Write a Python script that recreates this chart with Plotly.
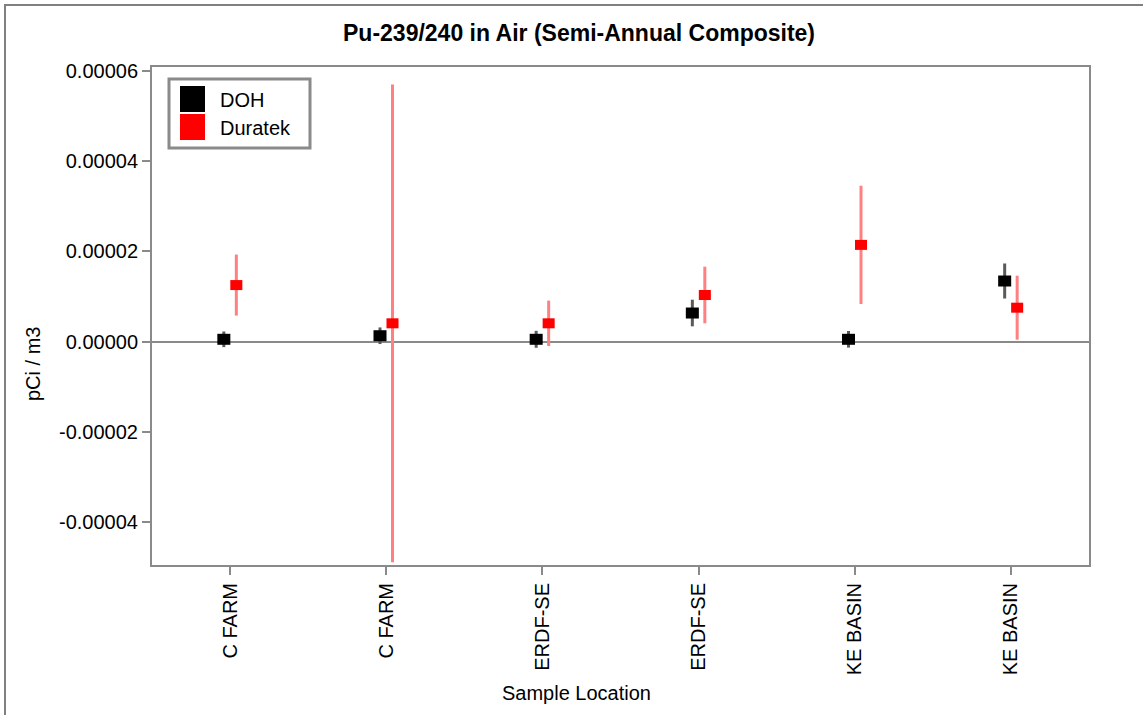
import plotly.graph_objects as go

# ---- data ----
locations = ["C FARM", "C FARM", "ERDF-SE", "ERDF-SE", "KE BASIN", "KE BASIN"]
doh_values = [4.9e-7, 1.28e-6, 4.9e-7, 6.31e-6, 4.9e-7, 1.34e-5]
doh_errors = [1.73e-6, 1.84e-6, 1.88e-6, 2.95e-6, 1.84e-6, 3.88e-6]
duratek_values = [1.25e-5, 4.03e-6, 4.03e-6, 1.03e-5, 2.14e-5, 7.49e-6]
duratek_errors = [6.76e-6, 5.29e-5, 5.03e-6, 6.27e-6, 1.31e-5, 7.09e-6]
y_ticks = [-0.00004, -0.00002, 0.0, 0.00002, 0.00004, 0.00006]
y_tick_labels = ["-0.00004", "-0.00002", "0.00000", "0.00002", "0.00004", "0.00006"]

# ---- layout geometry (pixels) ----
W, H = 1143, 715
PL, PR, PT, PB = 152, 1089, 67, 565
FONT = "Liberation Sans, Arial, sans-serif"
OFFSET = 0.04  # horizontal dodge of the two series inside a category


def px_x(p):
    return (p - PL) / (PR - PL)


def px_y(p):
    return (PB - p) / (PB - PT)


idx = list(range(len(locations)))
fig = go.Figure()

fig.add_trace(go.Scatter(
    x=[i - OFFSET for i in idx], y=doh_values, mode="markers", name="DOH",
    marker=dict(symbol="line-ew", size=9.3, color="black",
                line=dict(color="black", width=11)),
    error_y=dict(type="data", array=doh_errors, visible=True, width=0,
                 thickness=3, color="#5a5a5a"),
    showlegend=False,
))
fig.add_trace(go.Scatter(
    x=[i + OFFSET for i in idx], y=duratek_values, mode="markers", name="Duratek",
    marker=dict(symbol="line-ew", size=8.6, color="#ff0000",
                line=dict(color="#ff0000", width=10)),
    error_y=dict(type="data", array=duratek_errors, visible=True, width=0,
                 thickness=3, color="#ff8080"),
    showlegend=False,
))

shapes = [
    # outer picture frame
    dict(type="rect", xref="paper", yref="paper",
         x0=px_x(5), x1=px_x(W + 20), y0=px_y(H + 20), y1=px_y(5),
         line=dict(color="#808080", width=2), fillcolor="rgba(0,0,0,0)", layer="below"),
    # legend box
    dict(type="rect", xref="paper", yref="paper",
         x0=px_x(169), x1=px_x(310), y0=px_y(148), y1=px_y(79),
         line=dict(color="#8a8a8a", width=3), fillcolor="white"),
    dict(type="rect", xref="paper", yref="paper",
         x0=px_x(180), x1=px_x(205), y0=px_y(112), y1=px_y(86),
         line=dict(width=0), fillcolor="black"),
    dict(type="rect", xref="paper", yref="paper",
         x0=px_x(180), x1=px_x(205), y0=px_y(140), y1=px_y(114),
         line=dict(width=0), fillcolor="#ff0000"),
]

annotations = [
    dict(text="<b>Pu-239/240 in Air (Semi-Annual Composite)</b>", xref="paper", yref="paper",
         x=px_x(579), y=px_y(33), showarrow=False, xanchor="center", yanchor="middle",
         font=dict(family=FONT, size=23, color="black")),
    dict(text="Sample Location", xref="paper", yref="paper",
         x=px_x(576), y=px_y(693), showarrow=False, xanchor="center", yanchor="middle",
         font=dict(family=FONT, size=20, color="black")),
    dict(text="pCi / m3", xref="paper", yref="paper", textangle=-90,
         x=px_x(33), y=px_y(364), showarrow=False, xanchor="center", yanchor="middle",
         font=dict(family=FONT, size=20, color="black")),
    dict(text="DOH", xref="paper", yref="paper",
         x=px_x(218), y=px_y(100), showarrow=False, xanchor="left", yanchor="middle",
         font=dict(family=FONT, size=20, color="black")),
    dict(text="Duratek", xref="paper", yref="paper",
         x=px_x(218), y=px_y(128), showarrow=False, xanchor="left", yanchor="middle",
         font=dict(family=FONT, size=20, color="black")),
]

fig.update_layout(
    width=W, height=H,
    margin=dict(l=PL, r=W - PR, t=PT, b=H - PB, pad=0),
    paper_bgcolor="white", plot_bgcolor="white",
    font=dict(family=FONT, size=20, color="black"),
    shapes=shapes, annotations=annotations,
    xaxis=dict(range=[-0.5, 5.5], tickmode="array", tickvals=idx, ticktext=locations,
               tickangle=-90, ticks="outside", ticklen=8, tickwidth=2, tickcolor="#8a8a8a",
               showline=True, linecolor="#8a8a8a", linewidth=2, mirror=True,
               showgrid=False, zeroline=False, tickfont=dict(size=20)),
    yaxis=dict(range=[-4.95e-5, 6.08e-5], tickmode="array", tickvals=y_ticks,
               ticktext=y_tick_labels, ticks="outside", ticklen=8, tickwidth=2,
               tickcolor="#8a8a8a", showline=True, linecolor="#8a8a8a", linewidth=2,
               mirror=True, showgrid=False, zeroline=True, zerolinecolor="#8a8a8a",
               zerolinewidth=2, tickfont=dict(size=20)),
)

fig.write_html(
    "out.html",
    config={"displayModeBar": False},
    post_script="document.body.style.margin='0';document.body.style.overflow='hidden';",
)
